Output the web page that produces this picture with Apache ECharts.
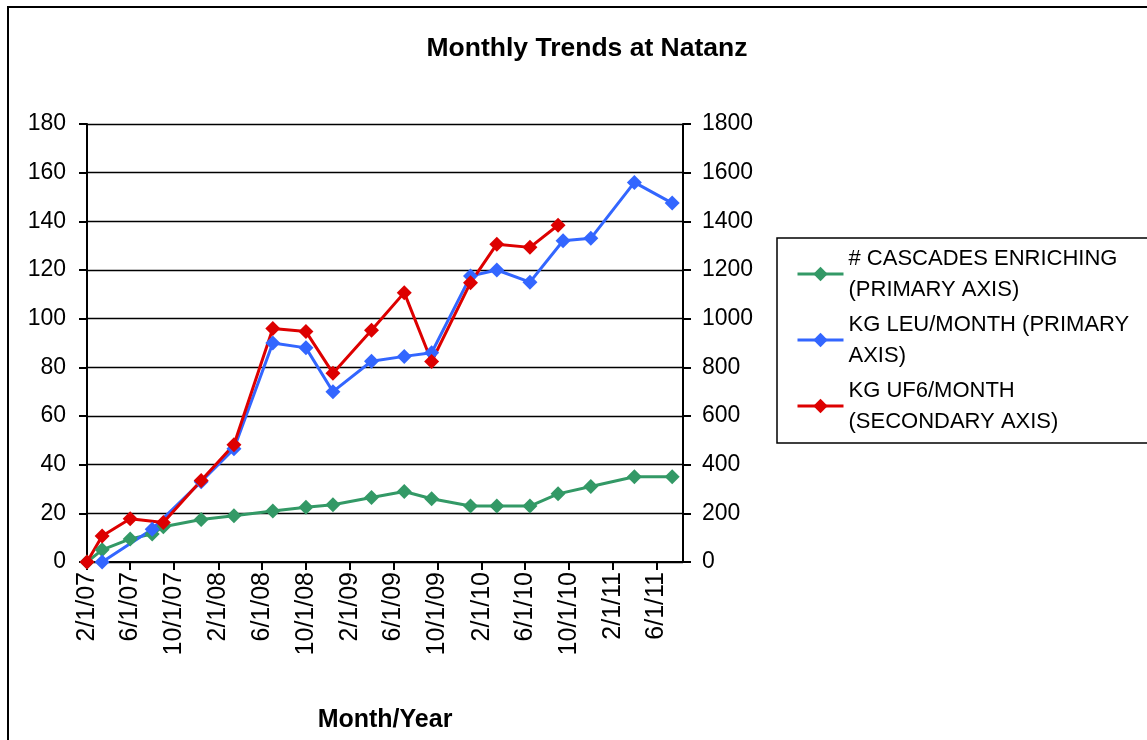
<!DOCTYPE html>
<html>
<head>
<meta charset="utf-8">
<title>Monthly Trends at Natanz</title>
<script src="https://cdn.jsdelivr.net/npm/echarts@6/dist/echarts.min.js"></script>
<style>
  html, body { margin: 0; padding: 0; background: #fff; }
  #chart { width: 1147px; height: 740px; }
</style>
</head>
<body>
<div id="chart"></div>
<script>
// report dates (M/D/YY) and the three series, null = no value that month
const dates = ['2/1/07', '3/15/07', '6/1/07', '8/1/07', '9/1/07', '12/15/07', '3/15/08', '7/1/08',
  '10/1/08', '12/15/08', '4/1/09', '7/1/09', '9/15/09', '1/1/10', '3/15/10', '6/15/10',
  '9/1/10', '9/15/10', '12/1/10', '4/1/11', '7/15/11']
const cascades = [0, 5, 9.5, 11.5, 14.5, 17.5, 19, 21, 22.5, 23.5, 26.5, 29, 26, 23, 23, 23,
  28, null, 31, 35, 35]
const leuPerMonth = [null, 0, null, 13.5, null, 33, 46.5, 90, 88, 70, 82.5, 84.5, 86, 117.5, 120, 115,
  null, 132, 133, 156, 147.5]
const uf6PerMonth = [0, 107, 178, null, 162, 335, 482, 960, 947, 776, 952, 1107, 824, 1148, 1306, 1293,
  1384, null, null, null, null]

const tickLabels = ['2/1/07', '6/1/07', '10/1/07', '2/1/08', '6/1/08', '10/1/08', '2/1/09', '6/1/09',
  '10/1/09', '2/1/10', '6/1/10', '10/1/10', '2/1/11', '6/1/11']
const axisStart = '2/1/07'
const axisEnd = '8/14/11'

const seriesNames = ['# CASCADES ENRICHING (PRIMARY AXIS)', 'KG LEU/MONTH (PRIMARY AXIS)', 'KG UF6/MONTH (SECONDARY AXIS)']
const legendLines = {
  '# CASCADES ENRICHING (PRIMARY AXIS)': '# CASCADES ENRICHING\n(PRIMARY AXIS)',
  'KG LEU/MONTH (PRIMARY AXIS)': 'KG LEU/MONTH (PRIMARY\nAXIS)',
  'KG UF6/MONTH (SECONDARY AXIS)': 'KG UF6/MONTH\n(SECONDARY AXIS)'
}

function parseDate(s) {
  const p = s.split('/').map(Number)
  return new Date(2000 + p[2], p[0] - 1, p[1]).getTime()
}

function fmtDate(v) {
  const d = new Date(v)
  return (d.getMonth() + 1) + '/' + d.getDate() + '/' + String(d.getFullYear() % 100).padStart(2, '0')
}

function pairs(values) {
  return dates.map((d, i) => [parseDate(d), values[i]])
}

const font = "'Liberation Sans', Arial, sans-serif"
const tickTimes = tickLabels.map(parseDate)

const chart = echarts.init(document.getElementById('chart'))

function lineSeries(name, values, color, yAxisIndex) {
  return {
    name: name,
    type: 'line',
    yAxisIndex: yAxisIndex,
    data: pairs(values),
    connectNulls: true,
    symbol: 'diamond',
    symbolSize: 15,
    showAllSymbol: true,
    animation: false,
    lineStyle: { color: color, width: 3 },
    itemStyle: { color: color }
  }
}

chart.setOption({
  textStyle: { fontFamily: font, color: '#000' },
  title: {
    text: 'Monthly Trends at Natanz',
    left: 582,
    textAlign: 'center',
    top: 30,
    textStyle: { fontFamily: font, fontSize: 26.5, fontWeight: 'bold', color: '#000' }
  },
  graphic: [{
    type: 'rect',
    shape: { x: 8, y: 7, width: 1300, height: 900 },
    style: { fill: 'none', stroke: '#000', lineWidth: 2 },
    silent: true
  }],
  legend: {
    orient: 'vertical',
    left: 777,
    top: 238,
    padding: [5, 22, 6, 19],
    itemGap: 4,
    itemWidth: 46,
    itemHeight: 18,
    borderColor: '#000',
    borderWidth: 1.5,
    data: seriesNames,
    lineStyle: { width: 3 },
    formatter: name => legendLines[name],
    textStyle: { fontFamily: font, fontSize: 22, lineHeight: 31, color: '#000' }
  },
  grid: { left: 87, right: 464, top: 124, bottom: 178, outerBoundsMode: 'none' },
  xAxis: {
    type: 'value',
    min: parseDate(axisStart),
    max: parseDate(axisEnd),
    name: 'Month/Year',
    nameLocation: 'middle',
    nameGap: 146,
    nameTextStyle: { fontFamily: font, fontSize: 25, fontWeight: 'bold', color: '#000' },
    splitLine: { show: false },
    axisLine: { lineStyle: { color: '#000', width: 2 } },
    axisTick: { show: true, inside: false, length: 8, customValues: tickTimes, lineStyle: { color: '#000', width: 2 } },
    axisLabel: {
      customValues: tickTimes,
      rotate: 90,
      margin: 10,
      fontSize: 25,
      color: '#000',
      formatter: v => fmtDate(v)
    }
  },
  yAxis: [{
    type: 'value',
    min: 0,
    max: 180,
    interval: 20,
    axisLine: { show: true, lineStyle: { color: '#000', width: 2 } },
    axisTick: { show: true, length: 8, lineStyle: { color: '#000', width: 2 } },
    axisLabel: { fontSize: 23, color: '#000', margin: 21 },
    splitLine: { show: true, lineStyle: { color: '#000', width: 1.3 } }
  }, {
    type: 'value',
    min: 0,
    max: 1800,
    interval: 200,
    position: 'right',
    axisLine: { show: true, lineStyle: { color: '#000', width: 2 } },
    axisTick: { show: true, length: 8, lineStyle: { color: '#000', width: 2 } },
    axisLabel: { fontSize: 23, color: '#000', margin: 19, formatter: v => String(v) },
    splitLine: { show: false }
  }],
  series: [
    lineSeries(seriesNames[0], cascades, '#339966', 0),
    lineSeries(seriesNames[1], leuPerMonth, '#3366ff', 0),
    lineSeries(seriesNames[2], uf6PerMonth, '#dd0000', 1)
  ]
})
</script>
</body>
</html>
